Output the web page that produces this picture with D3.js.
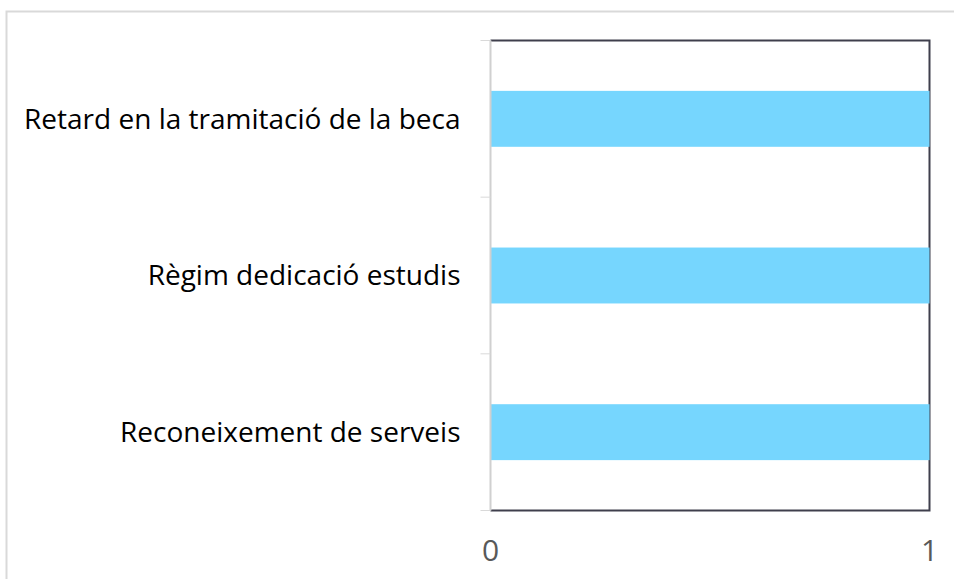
<!DOCTYPE html>
<html>
<head>
<meta charset="utf-8">
<script src="https://cdn.jsdelivr.net/npm/d3@7"></script>
<style>
  body { margin: 0; background: #fff; }
  svg { display: block; }
  text { font-family: "Open Sans", sans-serif; }
</style>
</head>
<body>
<svg id="chart" width="954" height="579"></svg>
<script>
// categories, top to bottom
const categories = [
  "Retard en la tramitació de la beca",
  "Règim dedicació estudis",
  "Reconeixement de serveis"
];
const values = [1, 1, 1];
const xTicks = [0, 1];

const svg = d3.select("#chart");
const m = { top: 40.5, right: 24.5, bottom: 68.5, left: 490.5 };
const W = 954, H = 579;
const iw = W - m.left - m.right, ih = H - m.top - m.bottom;

// outer frame
svg.append("rect")
  .attr("x", 6.5).attr("y", 11.5)
  .attr("width", 960).attr("height", 600)
  .attr("fill", "none").attr("stroke", "#d9d9d9").attr("stroke-width", 2);

const g = svg.append("g").attr("transform", `translate(${m.left},${m.top})`);

const x = d3.scaleLinear().domain([0, 1]).range([0, iw]);
const y = d3.scaleBand().domain(categories).range([0, ih]).paddingInner(0.643).paddingOuter(0.3215);

// plot border (top, right, bottom dark)
g.append("path")
  .attr("d", `M0,0H${iw}V${ih}H0`)
  .attr("fill", "none").attr("stroke", "#3f3f4c").attr("stroke-width", 2);

g.selectAll("rect.bar")
  .data(categories)
  .enter().append("rect")
  .attr("class", "bar")
  .attr("x", x(0))
  .attr("y", d => y(d))
  .attr("width", (d, i) => x(values[i]) - x(0))
  .attr("height", y.bandwidth())
  .attr("fill", "#76d6fe");

// left axis: gray line with category boundary ticks
const bounds = d3.range(categories.length + 1).map(i => i * ih / categories.length);
g.append("line").attr("x1", 0).attr("x2", 0).attr("y1", 0).attr("y2", ih)
  .attr("stroke", "#d0d0d0").attr("stroke-width", 2);
g.selectAll("line.tick").data(bounds).enter().append("line")
  .attr("class", "tick")
  .attr("x1", -10).attr("x2", 0)
  .attr("y1", d => d).attr("y2", d => d)
  .attr("stroke", "#d9d9d9").attr("stroke-width", 1);

g.selectAll("text.cat").data(categories).enter().append("text")
  .attr("class", "cat")
  .attr("x", -30)
  .attr("y", d => y(d) + y.bandwidth() / 2)
  .attr("dy", "0.35em")
  .attr("text-anchor", "end")
  .attr("font-size", 28)
  .attr("fill", "#000")
  .text(d => d);

g.selectAll("text.xt").data(xTicks).enter().append("text")
  .attr("class", "xt")
  .attr("x", d => x(d))
  .attr("y", ih + 40)
  .attr("dy", "0.35em")
  .attr("text-anchor", "middle")
  .attr("font-size", 30)
  .attr("fill", "#595959")
  .text(d => d);
</script>
</body>
</html>
